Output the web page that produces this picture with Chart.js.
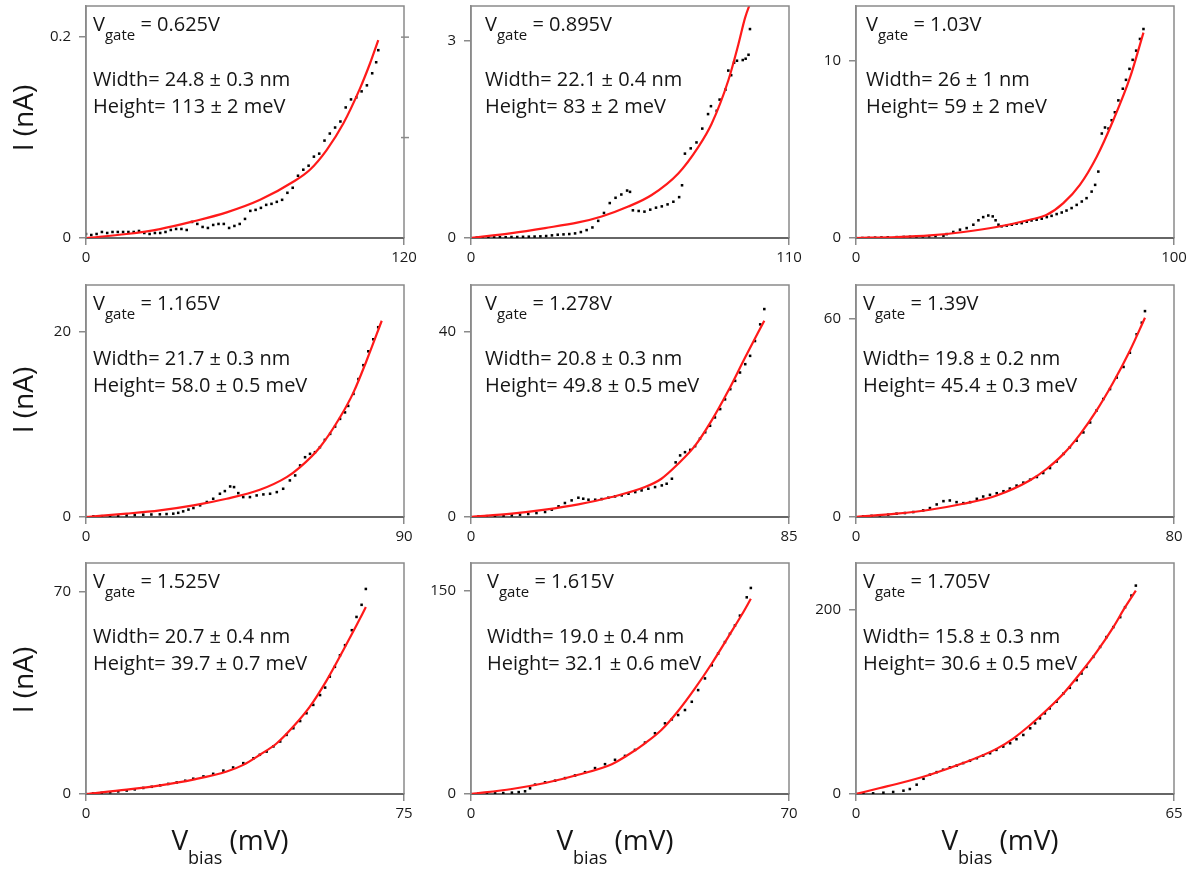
<!DOCTYPE html>
<html>
<head>
<meta charset="utf-8">
<script src="https://cdn.jsdelivr.net/npm/chart.js@4.4.0/dist/chart.umd.min.js"></script>
<style>
    body { margin: 0; background: #fff; width: 1189px; height: 872px; position: relative; overflow: hidden; font-family: "Open Sans", sans-serif; color: #151515; }
    canvas { position: absolute; }
    .line { position: absolute; font-size: 20px; line-height: 20px; white-space: nowrap; }
    .sub { font-size: 15px; position: relative; top: 9px; }
    .ytitle { position: absolute; font-size: 28px; line-height: 28px; white-space: nowrap; transform: translate(-50%, -50%) rotate(-90deg); }
    .xtitle { position: absolute; font-size: 28px; line-height: 28px; white-space: nowrap; transform: translateX(-50%); }
    .xtitle .sub { font-size: 18px; top: 14px; }
</style>
</head>
<body>
<script>
// panel order: row by row, left to right
const gateVoltage = ['0.625', '0.895', '1.03', '1.165', '1.278', '1.39', '1.525', '1.615', '1.705'];
const barrierWidth = ['24.8 ± 0.3', '22.1 ± 0.4', '26 ± 1', '21.7 ± 0.3', '20.8 ± 0.3', '19.8 ± 0.2', '20.7 ± 0.4', '19.0 ± 0.4', '15.8 ± 0.3'];
const barrierHeight = ['113 ± 2', '83 ± 2', '59 ± 2', '58.0 ± 0.5', '49.8 ± 0.5', '45.4 ± 0.3', '39.7 ± 0.7', '32.1 ± 0.6', '30.6 ± 0.5'];
const biasMax = [120, 110, 100, 90, 85, 80, 75, 70, 65];
const currentMax = [0.231, 3.52, 13.1, 25.06, 50.1, 70.2, 80.1, 170.3, 250.4];
const currentTick = [0.2, 3, 10, 20, 40, 60, 70, 150, 200];
const rightTicks = [[0.1, 0.2], [], [], [], [], [], [], [], []];

// measured I(V) points, [V_bias (mV), I (nA)]
const measured1 = [[0,0.004],[2,0.003],[4,0.004],[6,0.006],[8,0.005],[10,0.006],[12,0.006],[14,0.006],[16,0.006],[18,0.006],[20,0.007],[22,0.005],[24,0.004],[26,0.005],[28,0.005],[30,0.006],[32,0.008],[34,0.009],[36,0.009],[38,0.008],[40,0.016],[42,0.014],[44,0.011],[46,0.010],[48,0.013],[50,0.014],[52,0.014],[54,0.010],[56,0.012],[58,0.014],[60,0.019],[62,0.027],[64,0.028],[66,0.030],[68,0.033],[70,0.034],[72,0.036],[74,0.038],[76,0.045],[78,0.050],[80,0.062],[82,0.068],[84,0.072],[86,0.081],[88,0.084],[90,0.097],[92,0.104],[94,0.110],[96,0.116],[98,0.130],[100,0.138],[102,0.140],[104,0.146],[106,0.152],[108,0.164],[109.5,0.175],[110.3,0.187]];
const measured2 = [[0,0],[2,0.005],[4,0.008],[6,0.01],[8,0.01],[10,0.012],[12,0.012],[14,0.015],[16,0.015],[18,0.018],[20,0.02],[22,0.022],[24,0.025],[26,0.03],[28,0.04],[30,0.05],[32,0.055],[34,0.06],[36,0.07],[38,0.09],[40,0.12],[42,0.16],[44,0.26],[46,0.38],[48,0.53],[50,0.61],[52,0.66],[54,0.72],[55,0.70],[56,0.42],[58,0.41],[60,0.40],[62,0.43],[64,0.46],[66,0.48],[68,0.51],[70,0.55],[72,0.62],[73,0.80],[74,1.28],[76,1.36],[78,1.45],[80,1.66],[82,1.88],[83,2.0],[85,1.93],[86,2.1],[88,2.25],[89,2.54],[90,2.47],[91,2.66],[92,2.69],[94,2.7],[95,2.72],[96,2.78],[96.5,3.17]];
const measured3 = [[0,0],[2,0.0],[4,0.01],[6,0.02],[8,0.03],[10,0.04],[12.8,0.05],[15,0.06],[17,0.07],[19,0.08],[21,0.09],[23,0.1],[25,0.11],[27.5,0.13],[28.5,0.22],[30.6,0.34],[32.7,0.47],[34.8,0.56],[36.9,0.75],[38.5,1.0],[40.0,1.18],[41.6,1.27],[43.0,1.22],[43.9,1.0],[44.8,0.75],[45.8,0.66],[47.4,0.7],[49.0,0.75],[50.5,0.81],[52.1,0.84],[53.7,0.92],[55.2,0.99],[56.8,1.03],[58.4,1.09],[60.0,1.18],[61.5,1.25],[63.1,1.35],[64.7,1.44],[66.2,1.55],[67.8,1.69],[69.4,1.87],[71.0,2.06],[72.5,2.25],[74.1,2.62],[75.2,3.0],[76.2,3.75],[77.3,5.9],[78.3,6.24],[79.4,6.18],[80.4,6.65],[81.4,7.1],[82.5,7.77],[83.9,8.43],[84.9,8.93],[86.0,9.55],[87.0,10.06],[88.1,10.58],[89.3,11.24],[90.4,11.8]];
const measured4 = [[0,0],[2.1,0.07],[4.5,0.09],[6.8,0.11],[9.1,0.14],[11.5,0.18],[13.8,0.21],[16.2,0.25],[18.5,0.27],[20.9,0.29],[22.8,0.32],[24.7,0.36],[26.1,0.45],[27.5,0.61],[29.0,0.8],[30.4,0.97],[32.3,1.26],[34.2,1.62],[36.0,1.97],[37.9,2.51],[39.3,2.8],[40.8,3.3],[41.9,3.23],[43.1,2.58],[44.5,2.15],[46.4,2.15],[48.3,2.33],[50.2,2.44],[52.1,2.51],[54.0,2.69],[55.8,3.05],[57.7,3.95],[59.2,4.49],[60.6,5.57],[62.0,6.46],[63.4,6.82],[64.8,7.0],[66.2,7.54],[67.6,8.33],[69.1,8.98],[70.5,9.77],[71.9,10.6],[73.3,11.3],[74.2,12.0],[75.7,13.3],[77.1,14.9],[78.5,16.4],[79.9,17.9],[81.3,19.2],[82.7,20.5]];
const measured5 = [[0,0],[2.0,0.14],[4.2,0.18],[6.4,0.22],[8.7,0.3],[10.9,0.36],[13.1,0.5],[15.3,0.65],[17.5,0.85],[19.8,1.08],[21.6,1.58],[23.4,2.30],[25.1,3.02],[26.9,3.59],[28.7,4.16],[30.0,3.95],[31.4,3.73],[33.2,3.73],[34.9,3.88],[36.7,4.16],[38.5,4.45],[40.3,4.67],[42.1,5.03],[43.9,5.38],[45.6,5.74],[47.4,6.1],[49.2,6.46],[51.0,6.82],[52.3,7.18],[53.7,8.26],[54.7,11.8],[55.9,13.3],[57.2,14.0],[58.6,14.5],[59.9,15.3],[61.2,16.9],[62.6,18.3],[63.9,19.7],[65.2,21.5],[66.6,23.3],[67.9,25.4],[69.3,27.6],[70.6,29.4],[71.9,31.2],[73.3,33.0],[74.6,34.8],[75.9,38.0],[77.3,41.6],[78.4,44.9]];
const measured6 = [[0,0],[1.8,0.2],[3.9,0.35],[6.0,0.5],[8.1,0.7],[10.2,1.0],[12.3,1.2],[14.4,1.5],[16.9,2.0],[18.6,2.7],[20.3,3.8],[22.0,4.8],[23.6,5.0],[25.3,4.5],[27.0,4.2],[28.7,4.5],[30.4,5.5],[32.0,6.2],[33.7,6.7],[35.4,7.2],[37.1,7.8],[38.7,8.6],[40.4,9.5],[42.1,10.4],[43.8,11.3],[45.5,12.1],[47.1,13.3],[48.8,14.8],[50.5,16.8],[52.2,19.1],[53.8,21.1],[55.5,23.1],[57.2,25.6],[58.9,28.6],[60.5,32.2],[62.2,35.7],[63.9,38.7],[65.6,42.2],[67.3,45.4],[68.9,49.7],[70.6,55.3],[71.9,58.8],[72.7,62.3]];
const measured7 = [[0,0],[1.7,0.2],[3.7,0.4],[5.7,0.6],[7.6,0.9],[9.6,1.2],[11.5,1.6],[13.5,2.1],[15.5,2.5],[17.5,3.0],[19.4,3.5],[21.4,4.0],[23.4,4.6],[25.3,5.3],[27.7,6.1],[30.0,7.0],[32.4,8.1],[34.7,9.2],[37.1,10.7],[39.5,12.4],[41.0,13.6],[42.6,14.7],[44.2,16.5],[45.8,18.2],[47.3,20.5],[48.9,22.8],[50.5,25.3],[52.0,28.0],[53.6,30.9],[55.2,34.3],[56.4,36.9],[57.5,40.7],[58.7,44.1],[59.9,48.1],[61.1,51.6],[62.7,56.8],[63.8,61.4],[65.0,65.6],[66.0,71.1]];
const measured8 = [[0,0],[1.6,0.2],[3.5,0.3],[5.3,0.5],[7.1,0.7],[9.0,1.0],[10.5,1.4],[11.9,2.0],[13.0,4.2],[14.1,6.9],[16.3,8.6],[18.5,9.8],[20.7,11.7],[22.9,13.7],[25.1,16.1],[27.3,19.1],[29.5,22.0],[31.7,25.2],[33.9,28.1],[36.1,32.5],[38.3,37.9],[40.5,44.8],[42.7,52.1],[44.2,55.0],[45.6,58.2],[47.1,61.9],[48.6,68.0],[50.0,76.6],[51.5,85.2],[53.0,94.9],[54.4,103.5],[55.9,112.0],[57.0,118.1],[58.1,124.2],[59.2,131.5],[60.7,145.0],[61.6,151.9]];
const measured9 = [[0,0],[1.5,0.4],[3.5,0.7],[5.6,1.4],[7.6,2.2],[9.7,3.6],[11.0,5.4],[12.4,10.1],[13.8,16.5],[15.1,20.9],[16.5,23.7],[17.8,26.3],[19.2,28.8],[20.6,30.9],[21.9,33.5],[23.3,36.0],[24.7,38.8],[26.0,41.7],[27.4,44.2],[28.7,47.8],[30.1,51.4],[31.5,55.0],[32.8,59.4],[34.2,64.0],[35.6,71.2],[36.6,76.6],[37.6,82.0],[38.6,87.4],[39.6,92.8],[41.0,100.0],[42.4,109.0],[43.7,115.1],[45.1,123.4],[46.1,130.6],[47.1,137.8],[48.5,148.6],[49.9,159.4],[51.2,170.1],[52.6,180.9],[54.0,191.7],[55.0,202.5],[56.3,215.1],[57.2,225.9]];

// fitted curves, [V_bias (mV), I (nA)]
const fit1 = [[0,0],[15.3,0.004],[27.9,0.0089],[40.5,0.0165],[53.1,0.0255],[65.7,0.038],[78.2,0.056],[84.5,0.068],[90.8,0.0876],[97.1,0.114],[103.4,0.149],[107.2,0.174],[110.3,0.197]];
const fit2 = [[0,0],[14.1,0.075],[25.6,0.151],[37.1,0.236],[45.2,0.327],[54.4,0.477],[62.5,0.653],[71.7,0.98],[78.6,1.38],[83.2,1.73],[89.0,2.39],[92.5,2.94],[94.8,3.34],[96.9,3.6]];
const fit3 = [[0,0],[12.8,0.056],[23.3,0.15],[33.8,0.34],[44.2,0.62],[54.7,1.03],[60,1.31],[65.2,1.97],[70.4,3.0],[75.7,4.59],[80.9,6.65],[86.2,9.08],[90.4,11.6]];
const fit4 = [[0,0],[11.5,0.36],[20.9,0.72],[30.4,1.26],[39.8,1.97],[49.2,2.94],[56.8,4.31],[60.6,5.39],[66.2,7.54],[71.9,10.77],[75.7,13.46],[79.4,16.88],[83.7,21.2]];
const fit5 = [[0,0],[10.9,0.72],[19.8,1.58],[28.7,2.73],[37.6,4.31],[46.5,6.46],[50.9,8.26],[55.4,11.5],[59.9,15.4],[64.3,20.8],[68.8,27.3],[73.3,34.5],[78.4,42.4]];
const fit6 = [[0,0],[10.2,1.0],[18.6,2.2],[27.0,4.0],[35.4,6.5],[43.8,11.1],[48.0,14.6],[52.2,19.1],[56.4,25.1],[60.5,32.2],[64.7,40.7],[68.9,50.3],[72.7,60.3]];
const fit7 = [[0,0],[9.6,1.5],[17.5,3.0],[25.3,5.0],[33.2,7.8],[37.1,10.1],[41.0,13.6],[45.0,17.6],[48.9,23.4],[52.8,30.3],[56.8,39.5],[60.7,49.9],[63.8,58.5],[66.0,64.8]];
const fit8 = [[0,0],[9.0,3.7],[16.3,8.1],[23.6,14.2],[31.0,22.0],[34.6,28.9],[38.3,37.4],[41.9,47.2],[45.6,61.2],[49.3,77.8],[53.0,96.2],[56.6,115.7],[59.6,132.1],[61.6,143.9]];
const fit9 = [[0,0],[4.9,6.5],[8.3,10.8],[15.1,20.9],[21.9,33.5],[28.7,48.9],[32.2,60.4],[35.6,74.8],[39.0,91.0],[42.4,109.0],[45.8,130.6],[49.2,154.0],[52.6,180.9],[55.0,202.5],[57.2,220.5]];

const measured = [measured1, measured2, measured3, measured4, measured5, measured6, measured7, measured8, measured9];
const fits = [fit1, fit2, fit3, fit4, fit5, fit6, fit7, fit8, fit9];

// page layout (px)
const PLOT_LEFT = [86, 471, 856];
const PLOT_TOP = [5, 284, 562];
const PLOT_W = 318;
const PLOT_H = [233, 233, 232];
const AXIS_W = 56, AXIS_H = 32, PAD_T = 16, PAD_R = 24;
const NOTE_X = [7, 14, 10, 7, 14, 7, 7, 16, 7];

const frame = {
    id: 'frame',
    afterDatasetsDraw(chart, args, opts) {
        const { ctx, chartArea: a } = chart;
        ctx.save();
        ctx.strokeStyle = '#8a8a8a';
        ctx.lineWidth = 1.5;
        ctx.beginPath();
        ctx.moveTo(a.left, a.bottom);
        ctx.lineTo(a.left, a.top);
        ctx.lineTo(a.right, a.top);
        ctx.lineTo(a.right, a.bottom);
        ctx.stroke();
        const y = chart.scales.y;
        opts.ticks.forEach(v => {
            const py = y.getPixelForValue(v);
            ctx.beginPath();
            ctx.moveTo(a.right - 3, py);
            ctx.lineTo(a.right + 5, py);
            ctx.stroke();
        });
        ctx.restore();
    }
};

function toPoints(pairs) {
    return pairs.map(p => ({ x: p[0], y: p[1] }));
}

function addText(cls, html, left, top) {
    const el = document.createElement('div');
    el.className = cls;
    el.innerHTML = html;
    el.style.left = left + 'px';
    el.style.top = top + 'px';
    document.body.appendChild(el);
}

for (let i = 0; i < 9; i++) {
    const col = i % 3;
    const row = Math.floor(i / 3);

    const canvas = document.createElement('canvas');
    canvas.width = AXIS_W + PLOT_W + PAD_R;
    canvas.height = PAD_T + PLOT_H[row] + AXIS_H;
    canvas.style.left = (PLOT_LEFT[col] - AXIS_W) + 'px';
    canvas.style.top = (PLOT_TOP[row] - PAD_T) + 'px';
    document.body.appendChild(canvas);

    const axisGrid = { display: true, drawOnChartArea: false, drawTicks: true, tickLength: 7, color: '#8a8a8a', lineWidth: 1.5 };
    const tickFont = { family: '"Open Sans", sans-serif', size: 15 };

    new Chart(canvas, {
        type: 'scatter',
        data: {
            datasets: [
                {
                    data: toPoints(fits[i]),
                    showLine: true,
                    borderColor: '#ff1a1a',
                    borderWidth: 2.2,
                    pointRadius: 0,
                    cubicInterpolationMode: 'monotone'
                },
                {
                    data: toPoints(measured[i]),
                    pointStyle: 'rect',
                    pointRadius: 1.8,
                    pointBorderWidth: 0,
                    pointBackgroundColor: '#000'
                }
            ]
        },
        options: {
            responsive: false,
            animation: false,
            devicePixelRatio: 1,
            layout: { padding: { top: PAD_T, right: PAD_R, left: 0, bottom: 0 } },
            plugins: {
                legend: { display: false },
                tooltip: { enabled: false },
                frame: { ticks: rightTicks[i] }
            },
            scales: {
                x: {
                    type: 'linear',
                    min: 0,
                    max: biasMax[i],
                    afterBuildTicks: s => { s.ticks = [{ value: 0 }, { value: biasMax[i] }]; },
                    afterFit: s => { s.height = AXIS_H; },
                    ticks: { font: tickFont, color: '#1a1a1a', padding: 4, maxRotation: 0, autoSkip: false, callback: v => String(v) },
                    grid: axisGrid,
                    border: { display: true, color: '#666', width: 2 }
                },
                y: {
                    type: 'linear',
                    min: 0,
                    max: currentMax[i],
                    afterBuildTicks: s => { s.ticks = [{ value: 0 }, { value: currentTick[i] }]; },
                    afterFit: s => { s.width = AXIS_W; },
                    ticks: { font: tickFont, color: '#1a1a1a', padding: 8, autoSkip: false, callback: v => String(v) },
                    grid: axisGrid,
                    border: { display: true, color: '#8a8a8a', width: 1.5 }
                }
            }
        },
        plugins: [frame]
    });

    const nx = PLOT_LEFT[col] + NOTE_X[i];
    const ny = PLOT_TOP[row];
    addText('line', 'V<span class="sub">gate</span> = ' + gateVoltage[i] + 'V', nx, ny + 8.5);
    addText('line', 'Width= ' + barrierWidth[i] + ' nm', nx, ny + 63.5);
    addText('line', 'Height= ' + barrierHeight[i] + ' meV', nx, ny + 90.5);
}

// axis titles
[118, 400, 680].forEach(cy => addText('ytitle', 'I (nA)', 22, cy));
[230, 615, 1000].forEach(cx => addText('xtitle', 'V<span class="sub">bias</span> (mV)', cx, 825));
</script>
</body>
</html>
